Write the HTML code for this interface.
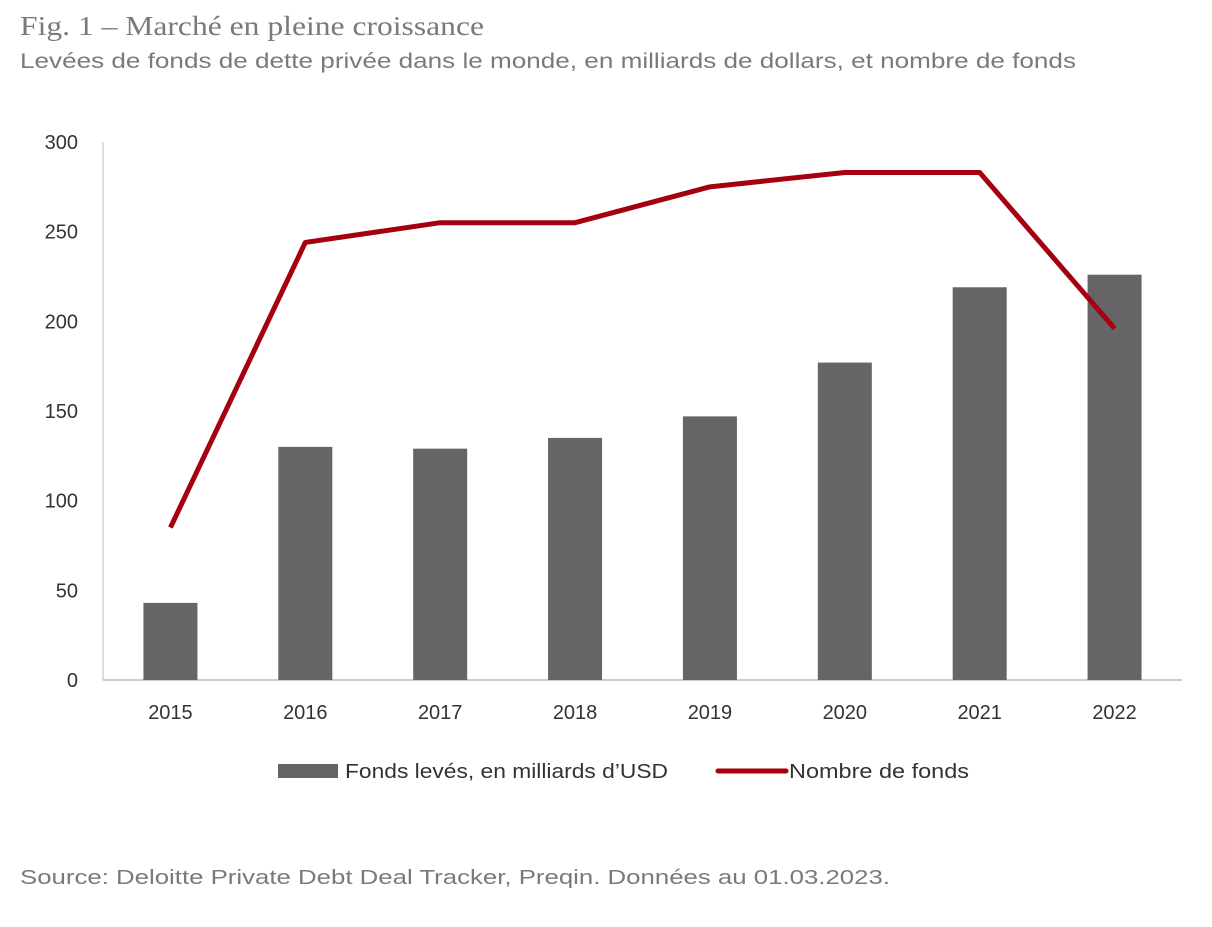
<!DOCTYPE html>
<html><head><meta charset="utf-8"><style>
body{margin:0;background:#fff;width:1212px;height:922px;overflow:hidden;font-family:"Liberation Sans",sans-serif}
</style></head><body>
<svg width="1212" height="922" xmlns="http://www.w3.org/2000/svg">
<text x="20" y="35" font-family="Liberation Serif,serif" font-size="27" fill="#7a7a7a" textLength="464" lengthAdjust="spacingAndGlyphs">Fig. 1 – Marché en pleine croissance</text>
<text x="20" y="68" font-size="21" fill="#7a7a7a" textLength="1056" lengthAdjust="spacingAndGlyphs">Levées de fonds de dette privée dans le monde, en milliards de dollars, et nombre de fonds</text>
<g id="axes"></g><g id="bars"></g><g id="line"></g>
<g>
<rect x="278" y="764" width="60" height="14" fill="#676467"/>
<text x="345" y="778" font-size="20" fill="#333" textLength="323" lengthAdjust="spacingAndGlyphs">Fonds levés, en milliards d’USD</text>
<line x1="718" y1="771" x2="786" y2="771" stroke="#a50010" stroke-width="5" stroke-linecap="round"/>
<text x="789" y="778" font-size="20" fill="#333" textLength="180" lengthAdjust="spacingAndGlyphs">Nombre de fonds</text>
</g>
<text x="20" y="884" font-size="20" fill="#7a7a7a" textLength="870" lengthAdjust="spacingAndGlyphs">Source: Deloitte Private Debt Deal Tracker, Preqin. Données au 01.03.2023.</text>
</svg>
<script>
const years=["2015","2016","2017","2018","2019","2020","2021","2022"];
const funds=[43,130,129,135,147,177,219,226];
const counts=[85,244,255,255,275,283,283,196];
const yTicks=[0,50,100,150,200,250,300];
const NS="http://www.w3.org/2000/svg";
const L=103,R=1182,T=142,B=680,yMax=300;
const y=v=>B-(B-T)*v/yMax;
const step=(R-L)/years.length;
const x=i=>L+step*(i+0.5);
function mk(tag,attrs,parent){const e=document.createElementNS(NS,tag);for(const k in attrs)e.setAttribute(k,attrs[k]);parent.appendChild(e);return e;}
const ax=document.getElementById('axes'),bg=document.getElementById('bars'),lg=document.getElementById('line');
let e=mk('line',{x1:L,y1:T,x2:L,y2:B,stroke:'#bbb','stroke-width':1},ax);


e=mk('line',{x1:L,y1:B,x2:R,y2:B,stroke:'#999','stroke-width':1},ax);


yTicks.forEach(v=>{const t=mk('text',{x:78,y:y(v)+7,'text-anchor':'end','font-size':20,fill:'#333'},ax);t.textContent=v;

});
years.forEach((yr,i)=>{const t=mk('text',{x:x(i),y:719,'text-anchor':'middle','font-size':20,fill:'#333'},ax);t.textContent=yr;


const r=mk('rect',{x:x(i)-27,y:y(funds[i]),width:54,height:B-y(funds[i]),fill:'#676467'},bg);

});
const p=mk('polyline',{points:counts.map((v,i)=>x(i)+','+y(v)).join(' '),fill:'none',stroke:'#a50010','stroke-width':5,'stroke-linejoin':'round'},lg);


</script>
</body></html>
